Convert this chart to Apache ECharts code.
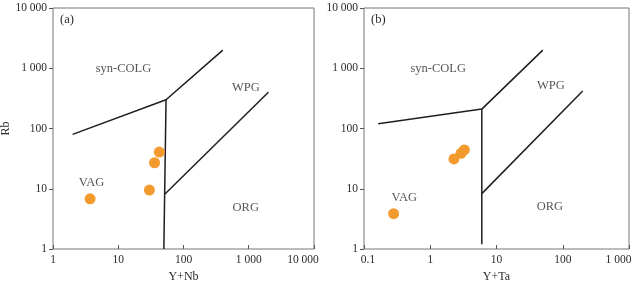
<!DOCTYPE html>
<html>
<head>
<meta charset="utf-8">
<script src="https://cdn.jsdelivr.net/npm/echarts@6/dist/echarts.min.js"></script>
<style>html,body{margin:0;padding:0;background:#fff}#c{width:640px;height:283px}</style>
</head>
<body>
<div id="c"></div>
<script>
// ---- data ----
const yTickLabels = ['1', '10', '100', '1 000', '10 000'];
const xTickLabelsA = ['1', '10', '100', '1 000', '10 000'];
const xTickLabelsB = ['0.1', '1', '10', '100', '1 000'];

// (a) Y+Nb vs Rb
const samplesA = [[3.7, 6.8], [30, 9.5], [36, 27], [42.6, 40.7]];
const colgLineA = [[2, 80], [54, 300], [400, 2000]];
const vagOrgLineA = [[54, 300], [50, 1]];
const wpgOrgLineA = [[52, 8.2], [2000, 400]];
const fieldLabelsA = [
  { name: 'syn-COLG', value: [12, 1000] },
  { name: 'WPG', value: [900, 470] },
  { name: 'VAG', value: [3.9, 12.8] },
  { name: 'ORG', value: [900, 4.85] }
];

// (b) Y+Ta vs Rb
const samplesB = [[0.28, 3.85], [2.28, 31.2], [2.91, 38.7], [3.27, 44]];
const colgLineB = [[0.164, 120], [6, 210], [50, 2000]];
const vagOrgLineB = [[6, 210], [6, 1.2]];
const wpgOrgLineB = [[6, 8.3], [200, 420]];
const fieldLabelsB = [
  { name: 'syn-COLG', value: [1.32, 1000] },
  { name: 'WPG', value: [66, 510] },
  { name: 'VAG', value: [0.405, 7.2] },
  { name: 'ORG', value: [64, 5] }
];

// ---- chart ----
const FONT = 'Liberation Serif';
const TXT = '#2a2a2a';
const fmt = (labels, min) => v => {
  const i = Math.round(Math.log10(v) - Math.log10(min));
  return labels[i] !== undefined ? labels[i] : '';
};
const fmtX = (labels, min, firstPadL, lastPadR) => v => {
  const i = Math.round(Math.log10(v) - Math.log10(min));
  const s = labels[i] !== undefined ? labels[i] : '';
  if (i === 0 && firstPadL) return '{f|' + s + '}';
  if (i === labels.length - 1) return '{l|' + s + '}';
  return s;
};
function xAxis(idx, min, max, labels, name, firstPadL, lastPadR) {
  const base = { fontFamily: FONT, fontSize: 11.5, color: TXT };
  return {
    type: 'log', logBase: 10, gridIndex: idx, min: min, max: max,
    name: name, nameLocation: 'middle', nameGap: 20,
    nameTextStyle: { fontFamily: FONT, fontSize: 12, color: TXT },
    axisLine: { show: false },
    axisTick: { show: true, inside: true, length: 4, lineStyle: { color: '#555' } },
    minorTick: { show: false },
    splitLine: { show: false },
    axisLabel: Object.assign({}, base, {
      margin: 5, formatter: fmtX(labels, min, firstPadL, lastPadR),
      rich: {
        f: Object.assign({}, base, { padding: [0, 0, 0, firstPadL] }),
        l: Object.assign({}, base, { padding: [0, lastPadR, 0, 0] })
      }
    })
  };
}
function yAxis(idx) {
  return {
    type: 'log', logBase: 10, gridIndex: idx, min: 1, max: 10000,
    name: idx === 0 ? 'Rb' : '', nameLocation: 'middle', nameGap: 39, nameRotate: 90,
    nameTextStyle: { fontFamily: FONT, fontSize: 12, color: TXT },
    axisLine: { show: false },
    axisTick: { show: true, inside: false, length: 4, lineStyle: { color: '#555' } },
    splitLine: { show: false },
    axisLabel: { fontFamily: FONT, fontSize: 11.5, color: TXT, margin: 6, formatter: fmt(yTickLabels, 1) }
  };
}
function line(idx, data) {
  return {
    type: 'line', xAxisIndex: idx, yAxisIndex: idx, data: data,
    symbol: 'none', silent: true, animation: false,
    lineStyle: { color: '#1e1e1e', width: 1.5 }
  };
}
function pts(idx, data) {
  return {
    type: 'scatter', xAxisIndex: idx, yAxisIndex: idx, data: data,
    symbolSize: 11, itemStyle: { color: '#F39A2E', opacity: 1 }, animation: false, z: 5
  };
}
function labels(idx, data) {
  return {
    type: 'scatter', xAxisIndex: idx, yAxisIndex: idx, data: data,
    symbolSize: 0, silent: true, animation: false,
    label: { show: true, position: 'inside', formatter: p => p.name,
      fontFamily: FONT, fontSize: 12.5, color: TXT }
  };
}

const chart = echarts.init(document.getElementById('c'), null, { renderer: 'canvas' });
chart.setOption({
  animation: false,
  title: [
    { text: '(a)', left: 55, top: 8, textStyle: { fontFamily: FONT, fontSize: 12.5, fontWeight: 'normal', color: TXT } },
    { text: '(b)', left: 366, top: 8, textStyle: { fontFamily: FONT, fontSize: 12.5, fontWeight: 'normal', color: TXT } }
  ],
  grid: [
    { left: 53, top: 8, width: 261, height: 241, outerBoundsMode: 'none', containLabel: false, show: true, borderColor: '#777', borderWidth: 1, backgroundColor: 'transparent' },
    { left: 364, top: 8, width: 265, height: 241, outerBoundsMode: 'none', containLabel: false, show: true, borderColor: '#777', borderWidth: 1, backgroundColor: 'transparent' }
  ],
  xAxis: [xAxis(0, 1, 10000, xTickLabelsA, 'Y+Nb', 0, 22), xAxis(1, 0.1, 1000, xTickLabelsB, 'Y+Ta', 8, 21)],
  yAxis: [yAxis(0), yAxis(1)],
  series: [
    line(0, colgLineA), line(0, vagOrgLineA), line(0, wpgOrgLineA), pts(0, samplesA), labels(0, fieldLabelsA),
    line(1, colgLineB), line(1, vagOrgLineB), line(1, wpgOrgLineB), pts(1, samplesB), labels(1, fieldLabelsB)
  ]
});
</script>
</body>
</html>
